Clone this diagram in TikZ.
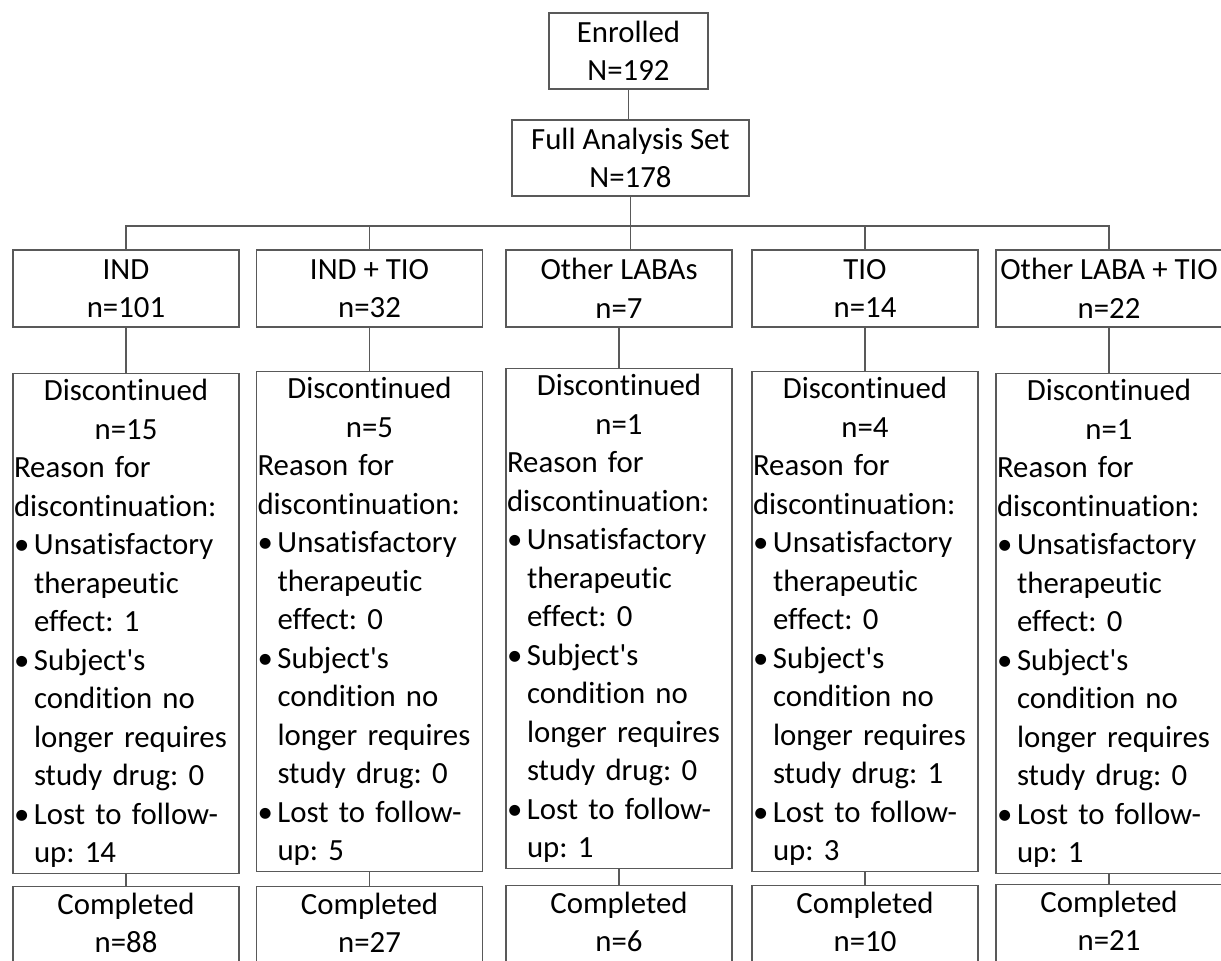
\documentclass[tikz,border=0pt]{standalone}
\usepackage{fontspec}
\setmainfont{Carlito}[Ligatures={TeX,NoCommon}]
\frenchspacing

\newcommand{\lft}[1]{\makebox[112pt][l]{#1}}
\newcommand{\bul}{\makebox[10pt][l]{\textbullet}}
\newcommand{\reasons}[4]{Discontinued\\n=#1\\\lft{Reason for}\\\lft{discontinuation:}\\
\lft{\bul Unsatisfactory}\\\lft{\hspace*{10pt}therapeutic}\\\lft{\hspace*{10pt}effect: #2}\\
\lft{\bul Subject\textquotesingle s}\\\lft{\hspace*{10pt}condition no}\\\lft{\hspace*{10pt}longer requires}\\\lft{\hspace*{10pt}study drug: #3}\\
\lft{\bul Lost to follow-}\\\lft{\hspace*{10pt}up: #4}}

\begin{document}
\begin{tikzpicture}
[x=0.5pt, y=-0.5pt, font=\fontsize{15.4}{19.25}\selectfont]

\tikzstyle{box}=[draw=black!65, line width=0.7pt, inner xsep=0.5pt, inner ysep=0pt, align=center]
\tikzstyle{group}=[box, minimum width=113pt, minimum height=38.5pt]
\tikzstyle{disc}=[box, text width=112pt, minimum height=250pt, anchor=north]
\tikzstyle{done}=[box, minimum width=113pt, inner ysep=3pt, text depth=5pt, anchor=north]
\tikzstyle{link}=[draw=black!65, line width=0.7pt]

\useasboundingbox (0,0) rectangle (1221,960);

\node[box, minimum width=79.5pt, minimum height=38pt]	(enr)	at (628.5,51)	{Enrolled\\N=192};
\node[box, minimum width=118.5pt, minimum height=38pt]	(fas)	at (630.5,158)	{Full Analysis Set\\N=178};
\coordinate (bar) at (0,226);

\node[group]	(g1)	at (126,288.5)		{IND\\n=101};
\node[group]	(g2)	at (369.5,288.5)	{IND + TIO\\n=32};
\node[group]	(g3)	at (619,288.5)		{Other LABAs\\n=7};
\node[group]	(g4)	at (865,288.5)		{TIO\\n=14};
\node[group]	(g5)	at (1109,288.5)		{Other LABA + TIO\\n=22};

\node[disc]	(d1)	at (126,373)	{\reasons{15}{1}{0}{14}};
\node[disc]	(d2)	at (369.5,371)	{\reasons{5}{0}{0}{5}};
\node[disc]	(d3)	at (619,368)	{\reasons{1}{0}{0}{1}};
\node[disc]	(d4)	at (865,371)	{\reasons{4}{0}{1}{3}};
\node[disc]	(d5)	at (1109,373)	{\reasons{1}{0}{0}{1}};

\node[done]	(c1)	at (126,886)	{Completed\\n=88};
\node[done]	(c2)	at (369.5,886)	{Completed\\n=27};
\node[done]	(c3)	at (619,885)	{Completed\\n=6};
\node[done]	(c4)	at (865,885)	{Completed\\n=10};
\node[done]	(c5)	at (1109,884)	{Completed\\n=21};

\draw [link] (enr) -- (enr.south |- fas.north);
\draw [link] (fas) -- (fas.south |- g3.north);
\draw [link] (g1.north) -- (g1.north |- bar) -- (g5.north |- bar) -- (g5.north);
\draw [link] (g2.north) -- (g2.north |- bar);
\draw [link] (g4.north) -- (g4.north |- bar);
\draw [link] (g1)--(d1)--(c1);
\draw [link] (g2)--(d2)--(c2);
\draw [link] (g3)--(d3)--(c3);
\draw [link] (g4)--(d4)--(c4);
\draw [link] (g5)--(d5)--(c5);
\end{tikzpicture}
\end{document}
